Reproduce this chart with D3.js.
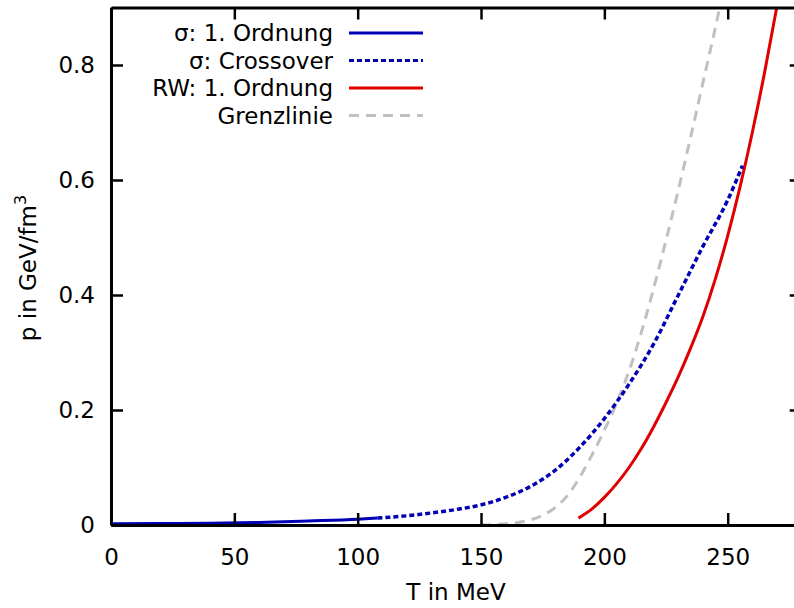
<!DOCTYPE html>
<html>
<head>
<meta charset="utf-8">
<script src="https://cdn.jsdelivr.net/npm/d3@7"></script>
<style>
  body { margin: 0; background: #fff; }
  svg text { font-family: "DejaVu Sans", sans-serif; fill: #000; }
</style>
</head>
<body>
<svg id="chart" width="794" height="608"></svg>
<script>
// values: T in MeV, p in GeV/fm^3
var sigmaFirst = [[0, 0.002], [20, 0.0025], [40, 0.003], [60, 0.0045], [80, 0.007], [100, 0.010], [108, 0.012]];
var sigmaCross = [[108, 0.012], [120, 0.016], [130, 0.021], [140, 0.027], [150, 0.035], [160, 0.048],
                  [170, 0.067], [180, 0.095], [190, 0.135], [200, 0.185], [210, 0.245], [220, 0.315],
                  [230, 0.40], [240, 0.485], [250, 0.565], [256, 0.625]];
var rwFirst = [[189.5, 0.012], [195, 0.028], [200, 0.048], [205, 0.072], [210, 0.1], [215, 0.133],
               [220, 0.171], [225, 0.213], [230, 0.258], [235, 0.308], [240, 0.363], [245, 0.428],
               [250, 0.503], [255, 0.588], [260, 0.683], [265, 0.788], [270, 0.903]];
var grenz = [[150, 0.0], [160, 0.002], [170, 0.009], [175, 0.017], [180, 0.03], [185, 0.051],
             [190, 0.083], [195, 0.122], [200, 0.165], [205, 0.212], [210, 0.268], [215, 0.335],
             [220, 0.412], [225, 0.495], [230, 0.583], [235, 0.675], [240, 0.77], [245, 0.865], [249, 0.945]];

var xTicks = [0, 50, 100, 150, 200, 250];
var yTicks = [0, 0.2, 0.4, 0.6, 0.8];

var series = [
    {name: "σ: 1. Ordnung", data: sigmaFirst, color: "#0000b4", dash: null},
    {name: "σ: Crossover", data: sigmaCross, color: "#0000b4", dash: "5,3"},
    {name: "RW: 1. Ordnung", data: rwFirst, color: "#e00000", dash: null},
    {name: "Grenzlinie", data: grenz, color: "#c0c0c0", dash: "10,7"}
];

var svg = d3.select("#chart");

var pLeft = 111, pRight = 801.7, pTop = 7.5, pBottom = 525;
var x = d3.scaleLinear().domain([0, 280]).range([pLeft, pRight]);
var y = d3.scaleLinear().domain([0, 0.9]).range([pBottom, pTop]);

svg.append("clipPath").attr("id", "clip")
    .append("rect")
    .attr("x", pLeft).attr("y", pTop)
    .attr("width", pRight - pLeft).attr("height", pBottom - pTop);

var line = d3.line()
    .x(function(d) { return x(d[0]); })
    .y(function(d) { return y(d[1]); })
    .curve(d3.curveMonotoneX);

var curves = svg.append("g").attr("clip-path", "url(#clip)");
series.slice().reverse().forEach(function(s) {
    curves.append("path")
        .attr("d", line(s.data))
        .attr("fill", "none")
        .attr("stroke", s.color)
        .attr("stroke-width", s.dash === "5,3" ? 3.5 : 3)
        .attr("stroke-dasharray", s.dash);
});

// axes with inward ticks on all four sides
var bottomAxis = d3.axisBottom(x).tickValues(xTicks).tickSizeInner(-12).tickSizeOuter(0).tickPadding(24);
var topAxis = d3.axisTop(x).tickValues(xTicks).tickSizeInner(-12).tickSizeOuter(0).tickFormat("");
var leftAxis = d3.axisLeft(y).tickValues(yTicks).tickSizeInner(-12).tickSizeOuter(0).tickPadding(16)
    .tickFormat(function(d) { return d === 0 ? "0" : d3.format(".1f")(d); });
var rightAxis = d3.axisRight(y).tickValues(yTicks).tickSizeInner(-12).tickSizeOuter(0).tickFormat("");

function styleAxis(g) {
    g.select(".domain").attr("stroke", "#000").attr("stroke-width", 3);
    g.selectAll(".tick line").attr("stroke", "#000").attr("stroke-width", 2.5);
    g.selectAll(".tick text").attr("font-size", 23).attr("font-family", "DejaVu Sans").attr("fill", "#000");
}

svg.append("g").attr("transform", "translate(0," + pBottom + ")").call(bottomAxis).call(styleAxis);
svg.append("g").attr("transform", "translate(0," + pTop + ")").call(topAxis).call(styleAxis);
svg.append("g").attr("transform", "translate(" + pLeft + ",0)").call(leftAxis).call(styleAxis);
svg.append("g").attr("transform", "translate(" + pRight + ",0)").call(rightAxis).call(styleAxis);

// axis titles
svg.append("text")
    .attr("x", 456).attr("y", 600)
    .attr("text-anchor", "middle")
    .attr("font-size", 23)
    .text("T in MeV");

var ylab = svg.append("text")
    .attr("transform", "translate(36,268) rotate(-90)")
    .attr("text-anchor", "middle")
    .attr("font-size", 23);
ylab.append("tspan").text("p in GeV/fm");
ylab.append("tspan").attr("dy", -10).attr("font-size", 16).text("3");

// legend
var legend = svg.append("g");
series.forEach(function(s, i) {
    var ly = 33 + i * 27.5;
    legend.append("text")
        .attr("x", 333).attr("y", ly + 8)
        .attr("text-anchor", "end")
        .attr("font-size", 23)
        .text(s.name);
    legend.append("line")
        .attr("x1", 349).attr("x2", 423)
        .attr("y1", ly).attr("y2", ly)
        .attr("stroke", s.color)
        .attr("stroke-width", 3)
        .attr("stroke-dasharray", s.dash);
});
</script>
</body>
</html>
